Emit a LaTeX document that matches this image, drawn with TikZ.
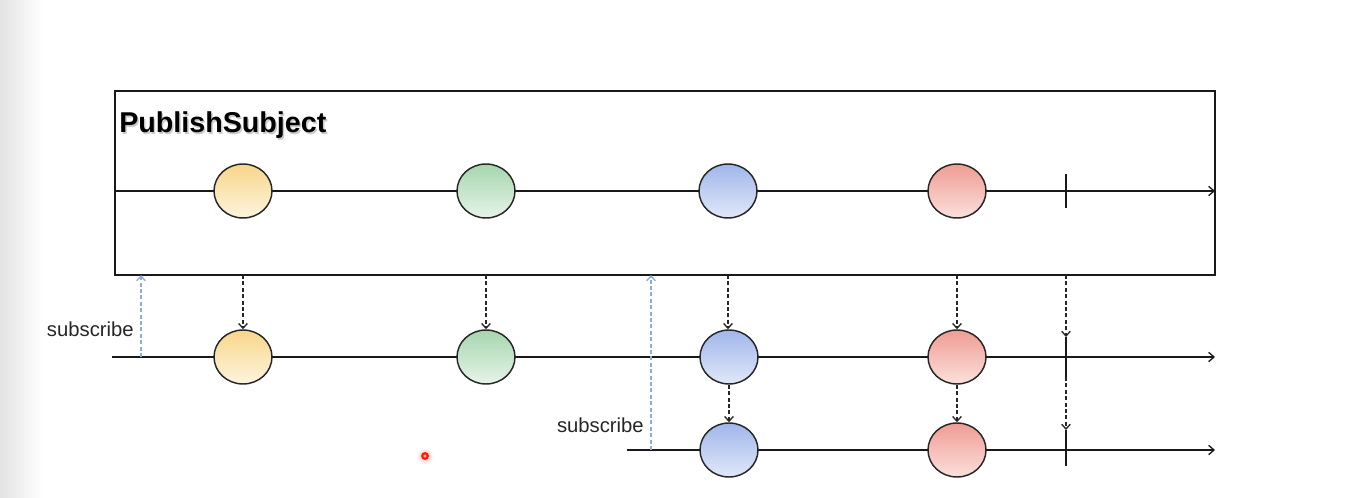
\documentclass[tikz,border=0pt]{standalone}
\usepackage{fontspec}
\setmainfont{Liberation Sans}
\usetikzlibrary{arrows.meta,shapes.geometric,calc}

\definecolor{ytop}{HTML}{F8D689}\definecolor{ybot}{HTML}{FDF4DE}
\definecolor{gtop}{HTML}{A6D6AE}\definecolor{gbot}{HTML}{E6F4E8}
\definecolor{btop}{HTML}{A0B6EA}\definecolor{bbot}{HTML}{E0E8F9}
\definecolor{rtop}{HTML}{EF9C94}\definecolor{rbot}{HTML}{FBE0DB}
\definecolor{subblue}{HTML}{8EACDA}

\tikzset{
  marble/.style={ellipse, draw=black!85, line width=1.1pt, inner sep=0pt,
                 minimum width=43.5pt, minimum height=40.5pt},
  yball/.style={marble, top color=ytop, bottom color=ybot},
  gball/.style={marble, top color=gtop, bottom color=gbot},
  bball/.style={marble, top color=btop, bottom color=bbot},
  rball/.style={marble, top color=rtop, bottom color=rbot},
  flow/.style={line width=1.1pt, black!90, -{Straight Barb[length=4pt,width=7pt,line width=1pt]}},
  tick/.style={line width=1.1pt, black!90},
  emit/.style={line width=0.9pt, black!85, dash pattern=on 3pt off 1.8pt,
               -{Straight Barb[length=3.6pt,width=6.5pt,line width=1pt]}},
  subarrow/.style={line width=0.9pt, subblue, dash pattern=on 3pt off 1.8pt,
               -{Straight Barb[length=3.6pt,width=6.5pt,line width=1pt]}},
  label/.style={font=\fontsize{15.2}{16}\selectfont, text=black!85, inner sep=0pt}
}

\begin{document}
\begin{tikzpicture}[x=0.75pt, y=-0.75pt]
  \useasboundingbox (0,0) rectangle (1364,498);
  % soft grey strip at the left edge
  \shade[left color=black!11, right color=white] (0,0) rectangle (42,498);

  % subject box
  \coordinate (boxNW) at (115,91);
  \coordinate (boxSE) at (1215,275);
  \draw[line width=1.5pt, black!90] (boxNW) rectangle (boxSE);
  \node[anchor=base west, inner sep=0pt, text=black!35, opacity=0.6,
        font=\bfseries\fontsize{21.5}{21.5}\selectfont] (titleshadow) at (120.5,134.5) {PublishSubject};
  \node[anchor=base west, inner sep=0pt,
        font=\bfseries\fontsize{21.5}{21.5}\selectfont] (title) at (119,133) {PublishSubject};

  % timelines
  \coordinate (m0) at (115,191);  \coordinate (m1) at (1215,191);
  \coordinate (a0) at (112,357);  \coordinate (a1) at (1215,357);
  \coordinate (c0) at (627,450);  \coordinate (c1) at (1215,450);
  \draw[flow] (m0) -- (m1);
  \draw[flow] (a0) -- (a1);
  \draw[flow] (c0) -- (c1);

  % emitted items
  \node[yball] (py) at (243,191) {};
  \node[gball] (pg) at (486,191) {};
  \node[bball] (pb) at (728,191) {};
  \node[rball] (pr) at (957,191) {};

  \node[yball] (ay) at (243,357) {};
  \node[gball] (ag) at (486,357) {};
  \node[bball] (ab) at (729,357) {};
  \node[rball] (ar) at (957,357) {};

  \node[bball] (cb) at (729,450) {};
  \node[rball] (cr) at (957,450) {};

  % completion ticks
  \coordinate (pt) at (1066,191);
  \coordinate (at) at (1066,357);
  \coordinate (ct) at (1066,450);
  \coordinate (at1) at ($(at)+(0,-20)$);
  \coordinate (at2) at ($(at)+(0,20)$);
  \coordinate (ct1) at ($(ct)+(0,-20)$);
  \coordinate (ct2) at ($(ct)+(0,16)$);
  \draw[tick] ($(pt)+(0,-17)$) -- ($(pt)+(0,17)$);
  \draw[tick] (at1) -- (at2);
  \draw[tick] (ct1) -- (ct2);

  % forwarding to the subscribers
  \draw[emit] (py.south |- boxSE) -- (ay.north);
  \draw[emit] (pg.south |- boxSE) -- (ag.north);
  \draw[emit] (pb.south |- boxSE) -- (pb.south |- ab.north);
  \draw[emit] (pr.south |- boxSE) -- (ar.north);
  \draw[emit] (pt |- boxSE) -- (at1);
  \draw[emit] (ab.south) -- (cb.north);
  \draw[emit] (ar.south) -- (cr.north);
  \draw[emit] (at2) -- (ct1);

  % subscriptions
  \coordinate (s1) at (141,357);
  \coordinate (s2) at (651,450);
  \draw[subarrow] (s1) -- (s1 |- boxSE);
  \draw[subarrow] (s2) -- (s2 |- boxSE);
  \node[label, anchor=base east] (sub1) at (134,337) {subscribe};
  \node[label, anchor=base east] (sub2) at (644,433) {subscribe};

  % pointer mark
  \shade[inner color=red!35, outer color=white] (425,456) circle (8);
  \draw[line width=1.6pt, red!80!orange, fill=red!30] (425,456) circle (2.8);
\end{tikzpicture}
\end{document}
